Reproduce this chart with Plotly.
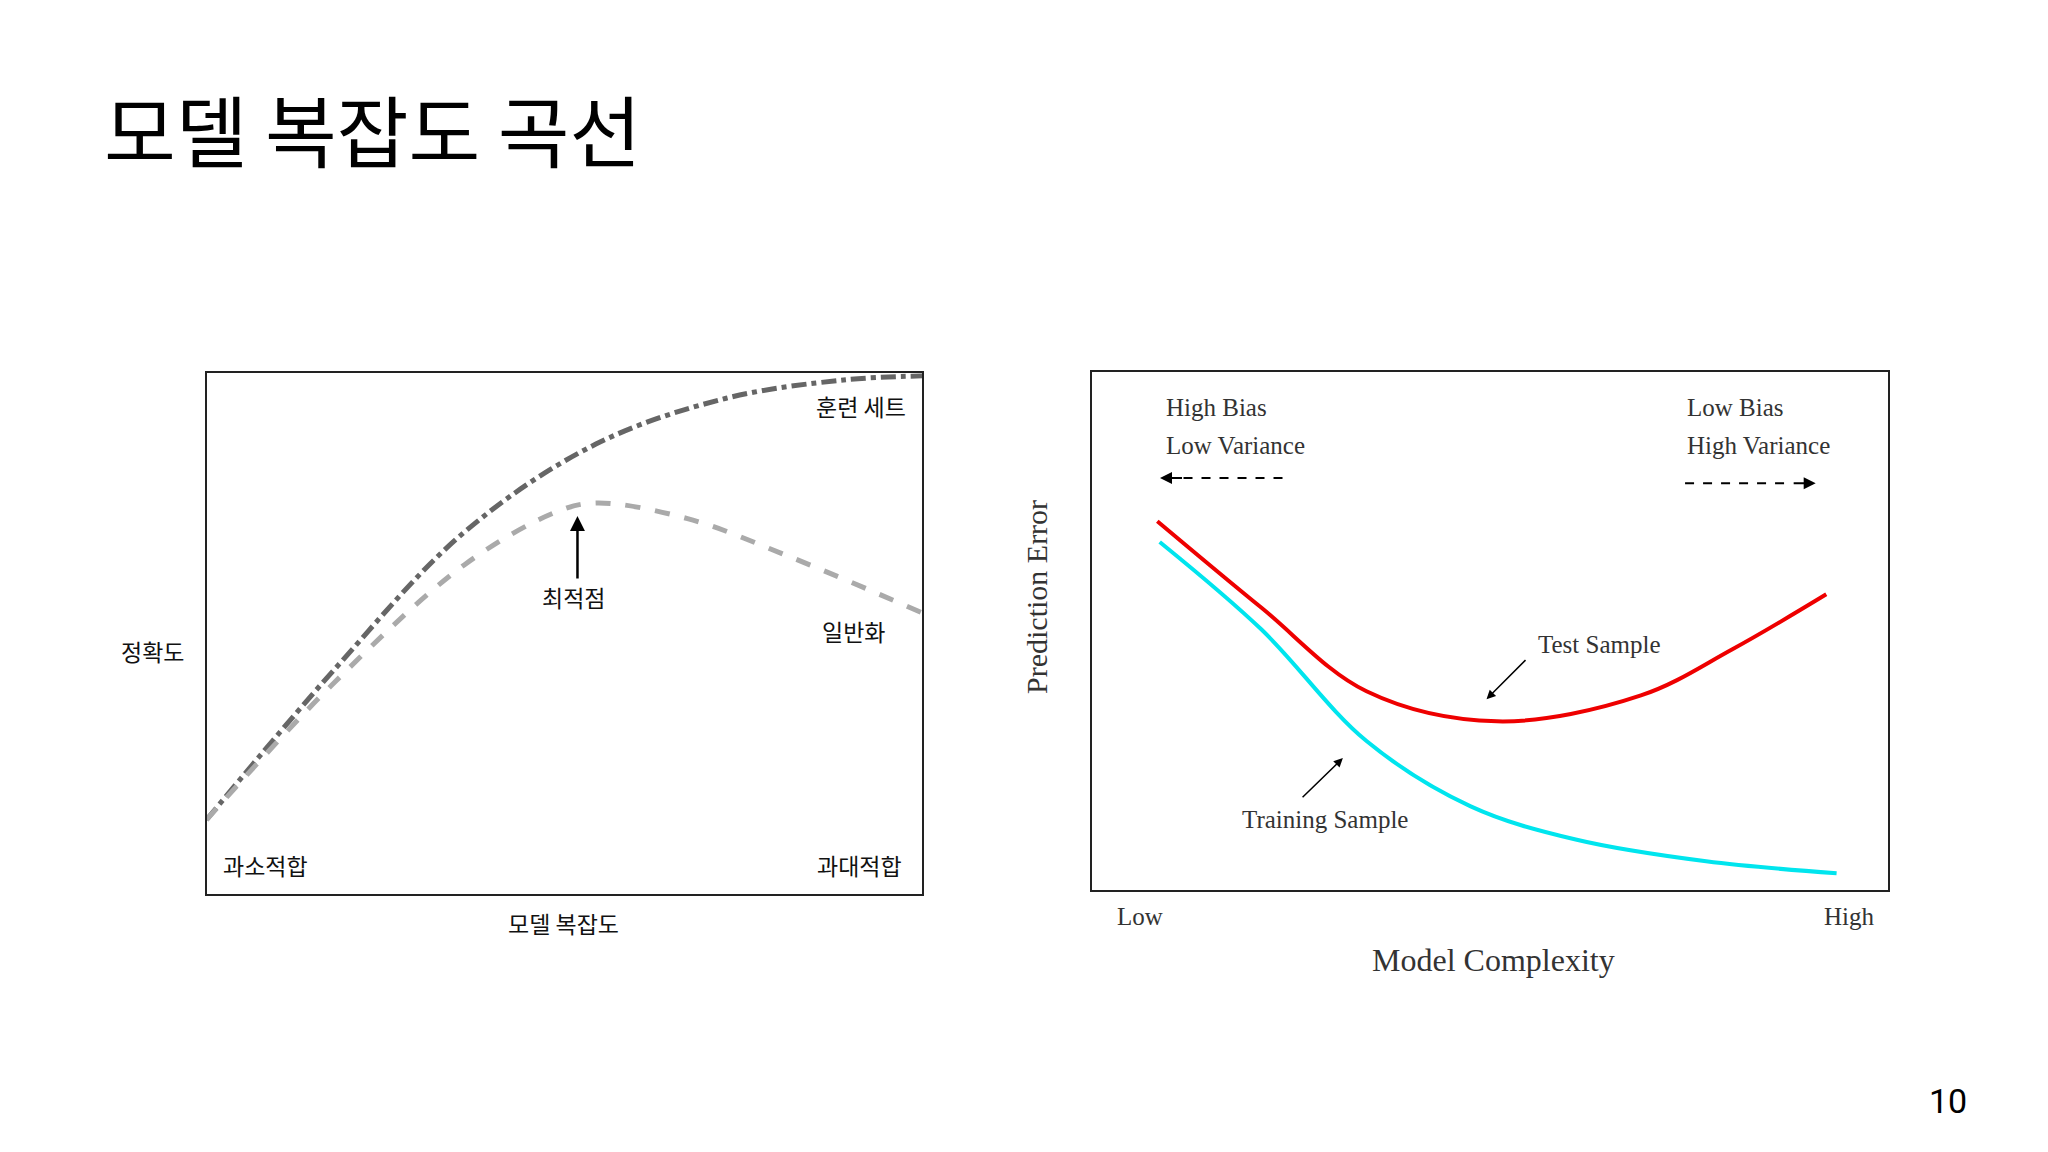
import plotly.graph_objects as go

SX = 2048/1568; SY = 1152/880
def px(x): return x*SX/2048
def py(y): return 1 - y*SY/1152

# left panel data
train_x = [0, 1.79, 3.61, 5.44, 7.26, 8.9, 10]
train_y = [1.43, 4.32, 6.96, 8.64, 9.52, 9.87, 9.95]
gen_x = [0, 1.79, 3.61, 4.89, 5.44, 6.72, 8.18, 10]
gen_y = [1.43, 4.07, 6.33, 7.34, 7.51, 7.21, 6.46, 5.40]
# right panel data
test_x = [0.82, 2.13, 3.45, 5.09, 6.9, 8.05, 9.23]
test_y = [7.12, 5.45, 3.84, 3.26, 3.76, 4.65, 5.71]
trs_x = [0.85, 2.13, 3.45, 4.76, 6.08, 7.72, 9.36]
trs_y = [6.72, 5.03, 2.88, 1.62, 0.98, 0.56, 0.33]

fig = go.Figure()
fig.add_trace(go.Scatter(x=train_x, y=train_y, mode="lines", line=dict(color="#666", width=5, dash="dashdot", shape="spline"), xaxis="x", yaxis="y"))
fig.add_trace(go.Scatter(x=gen_x, y=gen_y, mode="lines", line=dict(color="#aaa", width=5, dash="dash", shape="spline"), xaxis="x", yaxis="y"))
fig.add_trace(go.Scatter(x=test_x, y=test_y, mode="lines", line=dict(color="#ee0000", width=4, shape="spline"), xaxis="x2", yaxis="y2"))
fig.add_trace(go.Scatter(x=trs_x, y=trs_y, mode="lines", line=dict(color="#00e5ee", width=4, shape="spline"), xaxis="x2", yaxis="y2"))

ax = dict(range=[0, 10], showgrid=False, zeroline=False, showticklabels=False, ticks="", showline=True, mirror=True, linecolor="#222", linewidth=2)
fig.update_layout(
    width=2048, height=1152, margin=dict(l=0, r=0, t=0, b=0), showlegend=False,
    paper_bgcolor="white", plot_bgcolor="white",
    xaxis=dict(ax, domain=[px(152), px(700)]), yaxis=dict(ax, domain=[py(677), py(279)]),
    xaxis2=dict(ax, domain=[px(830), px(1439)], anchor="y2"), yaxis2=dict(ax, domain=[py(674), py(278)], anchor="x2"),
)

K = "Noto Sans CJK KR"; S = "Liberation Serif"
anns = []
def t(x, y, s, size, font=K, xa="center", color="#111", angle=0):
    anns.append(dict(x=px(x), y=py(y), xref="paper", yref="paper", text=s, showarrow=False, xanchor=xa, yanchor="middle", textangle=angle, font=dict(family=font, size=size, color=color)))
t(72, 92, "모델 복잡도 곡선", 78, xa="left", color="#000")
t(1485, 835, "10", 34, font="Roboto", color="#000")
for s, x, y in [("훈련 세트", 653, 304), ("최적점", 433, 450), ("일반화", 647, 476),
                ("과소적합", 197, 655), ("과대적합", 652, 655), ("정확도", 111, 491), ("모델 복잡도", 425, 699)]:
    t(x, y, s, 23)
for s, x, y in [("High Bias", 885, 305), ("Low Variance", 885, 334), ("Low Bias", 1284, 305), ("High Variance", 1284, 334),
                ("Test Sample", 1170, 486), ("Training Sample", 943, 620)]:
    t(x, y, s, 25, font=S, xa="left", color="#333")
t(867, 694, "Low", 25, font=S, color="#333")
t(1410, 694, "High", 25, font=S, color="#333")
t(1137, 727, "Model Complexity", 32, font=S, color="#333")
t(787, 450, "Prediction Error", 30, font=S, color="#333", angle=-90)

def arrow(x0, y0, x1, y1, w=2, head=2):
    anns.append(dict(x=px(x1), y=py(y1), ax=(x0-x1)*SX, ay=(y0-y1)*SY, xref="paper", yref="paper", axref="pixel", ayref="pixel",
                     text="", showarrow=True, arrowhead=head, arrowwidth=w, arrowsize=1.2, arrowcolor="#000"))
arrow(436, 437, 436, 388, w=2.5)
arrow(1163, 497, 1132, 528, w=1.5)
arrow(990, 604, 1022, 573, w=1.5)
arrow(900, 359, 882, 359, w=2)
arrow(1366, 363, 1384, 363, w=2)
fig.update_layout(annotations=anns, shapes=[
    dict(type="line", xref="paper", yref="paper", x0=px(900), x1=px(978), y0=py(359), y1=py(359), line=dict(color="#000", width=2, dash="dash")),
    dict(type="line", xref="paper", yref="paper", x0=px(1284), x1=px(1366), y0=py(363), y1=py(363), line=dict(color="#000", width=2, dash="dash")),
])
fig.write_html("out.html")
